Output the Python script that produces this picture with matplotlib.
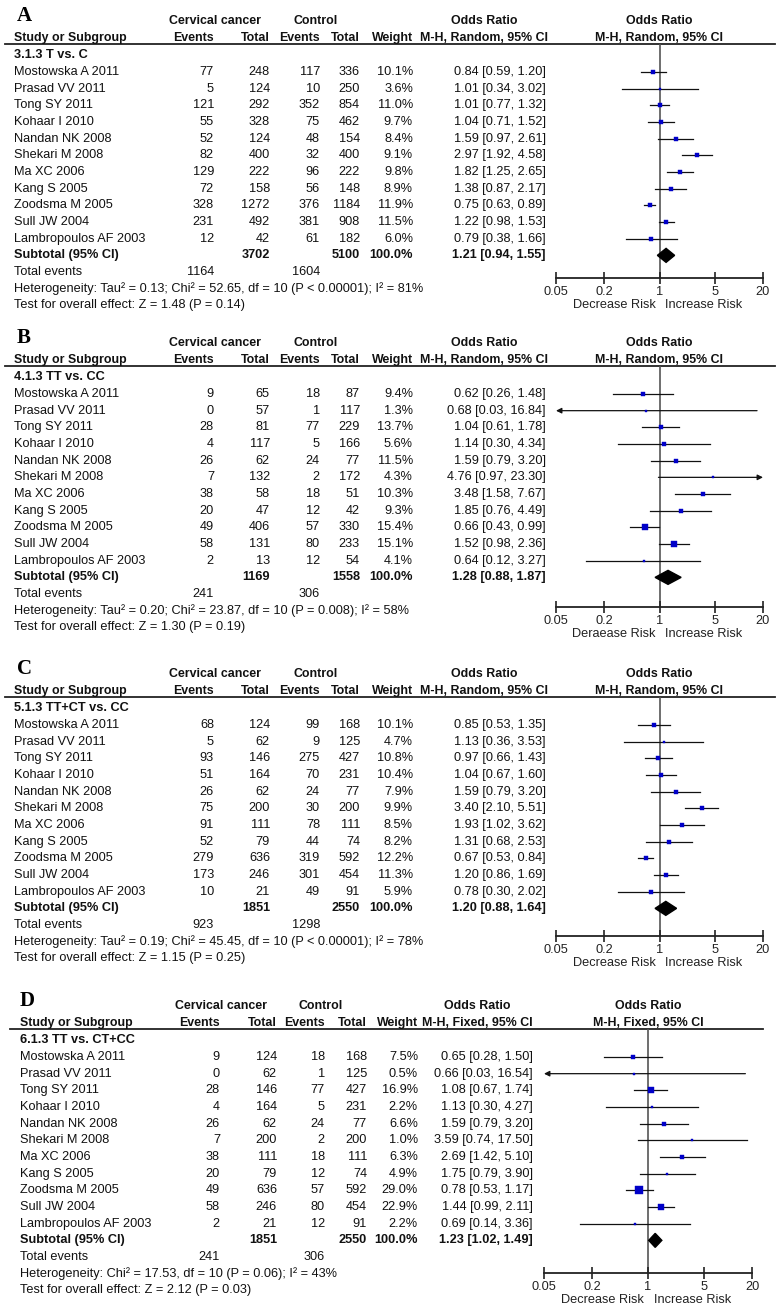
import numpy as np
import matplotlib
matplotlib.use('Agg')
import matplotlib.pyplot as plt

plt.rcParams['font.family'] = ['Liberation Sans', 'DejaVu Sans']

# study names (same order in every panel)
studies = ["Mostowska A 2011", "Prasad VV 2011", "Tong SY 2011", "Kohaar I 2010",
           "Nandan NK 2008", "Shekari M 2008", "Ma XC 2006", "Kang S 2005",
           "Zoodsma M 2005", "Sull JW 2004", "Lambropoulos AF 2003"]

# A: T vs. C
A_ca_ev = [77, 5, 121, 55, 52, 82, 129, 72, 328, 231, 12]
A_ca_tot = [248, 124, 292, 328, 124, 400, 222, 158, 1272, 492, 42]
A_ct_ev = [117, 10, 352, 75, 48, 32, 96, 56, 376, 381, 61]
A_ct_tot = [336, 250, 854, 462, 154, 400, 222, 148, 1184, 908, 182]
A_w = [10.1, 3.6, 11.0, 9.7, 8.4, 9.1, 9.8, 8.9, 11.9, 11.5, 6.0]
A_or = [0.84, 1.01, 1.01, 1.04, 1.59, 2.97, 1.82, 1.38, 0.75, 1.22, 0.79]
A_lo = [0.59, 0.34, 0.77, 0.71, 0.97, 1.92, 1.25, 0.87, 0.63, 0.98, 0.38]
A_hi = [1.20, 3.02, 1.32, 1.52, 2.61, 4.58, 2.65, 2.17, 0.89, 1.53, 1.66]
A_sub = [3702, 5100, 1.21, 0.94, 1.55]
A_events = [1164, 1604]

# B: TT vs. CC
B_ca_ev = [9, 0, 28, 4, 26, 7, 38, 20, 49, 58, 2]
B_ca_tot = [65, 57, 81, 117, 62, 132, 58, 47, 406, 131, 13]
B_ct_ev = [18, 1, 77, 5, 24, 2, 18, 12, 57, 80, 12]
B_ct_tot = [87, 117, 229, 166, 77, 172, 51, 42, 330, 233, 54]
B_w = [9.4, 1.3, 13.7, 5.6, 11.5, 4.3, 10.3, 9.3, 15.4, 15.1, 4.1]
B_or = [0.62, 0.68, 1.04, 1.14, 1.59, 4.76, 3.48, 1.85, 0.66, 1.52, 0.64]
B_lo = [0.26, 0.03, 0.61, 0.30, 0.79, 0.97, 1.58, 0.76, 0.43, 0.98, 0.12]
B_hi = [1.48, 16.84, 1.78, 4.34, 3.20, 23.30, 7.67, 4.49, 0.99, 2.36, 3.27]
B_sub = [1169, 1558, 1.28, 0.88, 1.87]
B_events = [241, 306]

# C: TT+CT vs. CC
C_ca_ev = [68, 5, 93, 51, 26, 75, 91, 52, 279, 173, 10]
C_ca_tot = [124, 62, 146, 164, 62, 200, 111, 79, 636, 246, 21]
C_ct_ev = [99, 9, 275, 70, 24, 30, 78, 44, 319, 301, 49]
C_ct_tot = [168, 125, 427, 231, 77, 200, 111, 74, 592, 454, 91]
C_w = [10.1, 4.7, 10.8, 10.4, 7.9, 9.9, 8.5, 8.2, 12.2, 11.3, 5.9]
C_or = [0.85, 1.13, 0.97, 1.04, 1.59, 3.40, 1.93, 1.31, 0.67, 1.20, 0.78]
C_lo = [0.53, 0.36, 0.66, 0.67, 0.79, 2.10, 1.02, 0.68, 0.53, 0.86, 0.30]
C_hi = [1.35, 3.53, 1.43, 1.60, 3.20, 5.51, 3.62, 2.53, 0.84, 1.69, 2.02]
C_sub = [1851, 2550, 1.20, 0.88, 1.64]
C_events = [923, 1298]

# D: TT vs. CT+CC
D_ca_ev = [9, 0, 28, 4, 26, 7, 38, 20, 49, 58, 2]
D_ca_tot = [124, 62, 146, 164, 62, 200, 111, 79, 636, 246, 21]
D_ct_ev = [18, 1, 77, 5, 24, 2, 18, 12, 57, 80, 12]
D_ct_tot = [168, 125, 427, 231, 77, 200, 111, 74, 592, 454, 91]
D_w = [7.5, 0.5, 16.9, 2.2, 6.6, 1.0, 6.3, 4.9, 29.0, 22.9, 2.2]
D_or = [0.65, 0.66, 1.08, 1.13, 1.59, 3.59, 2.69, 1.75, 0.78, 1.44, 0.69]
D_lo = [0.28, 0.03, 0.67, 0.30, 0.79, 0.74, 1.42, 0.79, 0.53, 0.99, 0.14]
D_hi = [1.50, 16.54, 1.74, 4.27, 3.20, 17.50, 5.10, 3.90, 1.17, 2.11, 3.36]
D_sub = [1851, 2550, 1.23, 1.02, 1.49]
D_events = [241, 306]

ticks = [0.05, 0.2, 1, 5, 20]
tick_labels = ["0.05", "0.2", "1", "5", "20"]

W, H = 779, 1308
fig = plt.figure(figsize=(W / 100, H / 100), dpi=100)
bg = fig.add_axes([0, 0, 1, 1])
bg.set_xlim(0, W)
bg.set_ylim(H, 0)
bg.axis('off')

fs = 9.2
hfs = 8.9   # bold header text is a little tighter
step = 16.67
xa = dict(lab=17, name=14, e1=214, t1=270, e2=320, t2=360, w=413, ci=546, orh=484,
          f0=556, f1=763, l0=5, l1=775)
xd = dict(lab=20, name=20, e1=220, t1=277, e2=325, t2=367, w=418, ci=533, orh=477,
          f0=544, f1=752, l0=10, l1=763)


def txt(x, y, s, ha='left', bold=False, size=None):
    bg.text(x, y, s, ha=ha, va='center', fontsize=size or fs,
            fontweight='bold' if bold else 'normal', color='#111')


def panel(letter, row0, yaxis, xs, subgroup, method, ca_ev, ca_tot, ct_ev, ct_tot,
          w, orr, lo, hi, sub, events, het, test, risk_left):
    bg.text(xs['lab'], row0 - 56, letter, fontsize=15, fontweight='bold',
            family='Liberation Serif', va='center', ha='left')
    y1 = row0 - 51
    y2 = row0 - 34
    txt(xs['e1'] + 1, y1, "Cervical cancer", 'center', True, hfs)
    txt(xs['e2'] - 4, y1, "Control", 'center', True, hfs)
    txt(xs['orh'], y1, "Odds Ratio", 'center', True, hfs)
    fc = (xs['f0'] + xs['f1']) / 2
    txt(fc, y1, "Odds Ratio", 'center', True, hfs)
    txt(xs['name'], y2, "Study or Subgroup", bold=True, size=hfs)
    txt(xs['e1'], y2, "Events", 'right', True, hfs)
    txt(xs['t1'], y2, "Total", 'right', True, hfs)
    txt(xs['e2'], y2, "Events", 'right', True, hfs)
    txt(xs['t2'], y2, "Total", 'right', True, hfs)
    txt(xs['w'], y2, "Weight", 'right', True, hfs)
    txt(xs['orh'], y2, method, 'center', True, hfs)
    txt(fc, y2, method, 'center', True, hfs)
    yline = row0 - 28
    bg.plot([xs['l0'], xs['l1']], [yline, yline], color='#222', lw=1.3)
    txt(xs['name'], row0 - step, subgroup, bold=True)

    for i in range(len(studies)):
        y = row0 + i * step
        txt(xs['name'], y, studies[i])
        txt(xs['e1'], y, str(ca_ev[i]), 'right')
        txt(xs['t1'], y, str(ca_tot[i]), 'right')
        txt(xs['e2'], y, str(ct_ev[i]), 'right')
        txt(xs['t2'], y, str(ct_tot[i]), 'right')
        txt(xs['w'], y, "%.1f%%" % w[i], 'right')
        txt(xs['ci'], y, "%.2f [%.2f, %.2f]" % (orr[i], lo[i], hi[i]), 'right')
    n = len(studies)
    y = row0 + n * step
    txt(xs['name'], y, "Subtotal (95% CI)", bold=True)
    txt(xs['t1'], y, str(sub[0]), 'right', True)
    txt(xs['t2'], y, str(sub[1]), 'right', True)
    txt(xs['w'], y, "100.0%", 'right', True)
    txt(xs['ci'], y, "%.2f [%.2f, %.2f]" % (sub[2], sub[3], sub[4]), 'right', True)
    y = row0 + (n + 1) * step
    txt(xs['name'], y, "Total events")
    txt(xs['e1'], y, str(events[0]), 'right')
    txt(xs['e2'], y, str(events[1]), 'right')
    txt(xs['name'], row0 + (n + 2) * step, het)
    txt(xs['name'], row0 + (n + 3) * step, test)

    # forest plot
    ax = fig.add_axes([xs['f0'] / W, 1 - yaxis / H, (xs['f1'] - xs['f0']) / W,
                       (yaxis - yline) / H])
    ax.set_xscale('log')
    ax.set_xlim(0.05, 20)
    ax.set_ylim((yaxis - row0) / step, (yline - row0) / step)
    ax.patch.set_alpha(0)
    for s in ['top', 'left', 'right']:
        ax.spines[s].set_visible(False)
    ax.spines['bottom'].set_linewidth(1.3)
    ax.spines['bottom'].set_color('#222')
    ax.set_yticks([])
    ax.set_xticks(ticks)
    ax.set_xticklabels(tick_labels)
    ax.minorticks_off()
    ax.tick_params(axis='x', direction='inout', length=9, width=1.2, pad=1,
                   labelsize=fs, colors='#222')
    ax.axvline(1, color='#555', lw=1.2, zorder=1)
    for i in range(n):
        a = max(lo[i], 0.05)
        b = min(hi[i], 20)
        if lo[i] < 0.05:
            ax.annotate('', xy=(0.05, i), xytext=(b, i),
                        arrowprops=dict(arrowstyle='-|>', color='#111', lw=0.9,
                                        mutation_scale=8, shrinkA=0, shrinkB=0))
        elif hi[i] > 20:
            ax.annotate('', xy=(20, i), xytext=(a, i),
                        arrowprops=dict(arrowstyle='-|>', color='#111', lw=0.9,
                                        mutation_scale=8, shrinkA=0, shrinkB=0))
        else:
            ax.plot([a, b], [i, i], color='#111', lw=0.9, zorder=2)
        side = max(1.35 * np.sqrt(w[i]), 2.2)
        ax.plot(orr[i], i, marker='s', ms=side * 0.72, color='#0000c8',
                mec='#0000c8', mew=0.3, zorder=3)
    ax.fill([sub[3], sub[2], sub[4], sub[2]], [n, n - 0.42, n, n + 0.42],
            color='black', zorder=3)
    bg.text(fc - 4, yaxis + 27, risk_left, ha='right', va='center', fontsize=fs, color='#222')
    bg.text(fc + 6, yaxis + 27, "Increase Risk", ha='left', va='center', fontsize=fs, color='#222')


panel("A", 72, 278, xa, "3.1.3 T vs. C", "M-H, Random, 95% CI",
      A_ca_ev, A_ca_tot, A_ct_ev, A_ct_tot, A_w, A_or, A_lo, A_hi, A_sub, A_events,
      "Heterogeneity: Tau² = 0.13; Chi² = 52.65, df = 10 (P < 0.00001); I² = 81%",
      "Test for overall effect: Z = 1.48 (P = 0.14)", "Decrease Risk")
panel("B", 394, 607, xa, "4.1.3 TT vs. CC", "M-H, Random, 95% CI",
      B_ca_ev, B_ca_tot, B_ct_ev, B_ct_tot, B_w, B_or, B_lo, B_hi, B_sub, B_events,
      "Heterogeneity: Tau² = 0.20; Chi² = 23.87, df = 10 (P = 0.008); I² = 58%",
      "Test for overall effect: Z = 1.30 (P = 0.19)", "Deraease Risk")
panel("C", 725, 936, xa, "5.1.3 TT+CT vs. CC", "M-H, Random, 95% CI",
      C_ca_ev, C_ca_tot, C_ct_ev, C_ct_tot, C_w, C_or, C_lo, C_hi, C_sub, C_events,
      "Heterogeneity: Tau² = 0.19; Chi² = 45.45, df = 10 (P < 0.00001); I² = 78%",
      "Test for overall effect: Z = 1.15 (P = 0.25)", "Decrease Risk")
panel("D", 1057, 1273, xd, "6.1.3 TT vs. CT+CC", "M-H, Fixed, 95% CI",
      D_ca_ev, D_ca_tot, D_ct_ev, D_ct_tot, D_w, D_or, D_lo, D_hi, D_sub, D_events,
      "Heterogeneity: Chi² = 17.53, df = 10 (P = 0.06); I² = 43%",
      "Test for overall effect: Z = 2.12 (P = 0.03)", "Decrease Risk")

fig.savefig('out.png', dpi=100)
